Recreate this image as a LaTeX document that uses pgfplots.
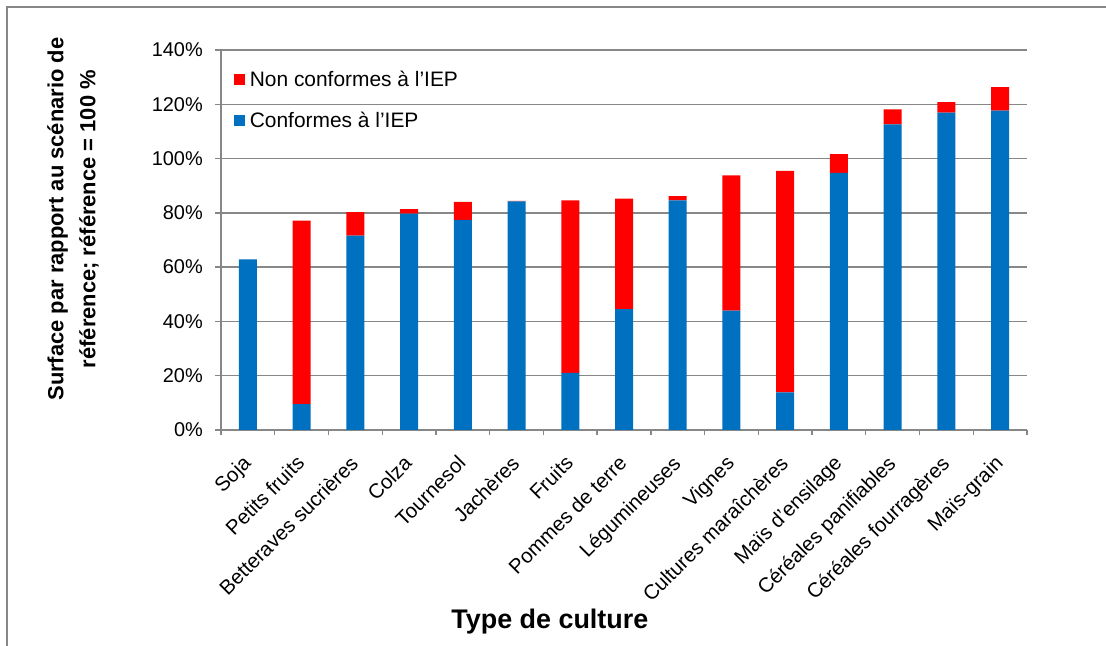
\documentclass[border=0pt]{standalone}
\usepackage{pgfplots}
\usepackage{pgfplotstable}
\pgfplotsset{compat=1.18}
\usepackage{fontspec}
\setmainfont{Liberation Sans}

\definecolor{barblue}{HTML}{0070C0}
\definecolor{barred}{HTML}{FF0000}
\definecolor{axgray}{HTML}{878787}

% surface en % du scénario de référence
\pgfplotstableread{
x conf nonconf
0  62.9  0.0
1  9.5   67.6
2  71.6  8.7
3  79.7  1.7
4  77.4  6.6
5  84.2  0.2
6  21.0  63.6
7  44.5  40.7
8  84.6  1.6
9  44.0  49.8
10 13.9  81.6
11 94.7  6.9
12 112.6 5.5
13 116.9 3.9
14 117.7 8.6
}\surfaces

\begin{document}
\begin{tikzpicture}
\useasboundingbox (0,0) rectangle (1106bp,646bp);
\begin{axis}[
    at={(221bp,216bp)}, anchor=south west,
    scale only axis, width=806bp, height=380bp,
    ybar stacked, bar width=18bp,
    xmin=-0.5, xmax=14.5, ymin=0, ymax=140,
    axis x line*=bottom, axis y line*=left,
    xtick={0,...,14},
    xticklabels={Soja, Petits fruits, Betteraves sucrières, Colza, Tournesol,
        Jachères, Fruits, Pommes de terre, Légumineuses, Vignes,
        Cultures maraîchères, Maïs d'ensilage, Céréales panifiables,
        Céréales fourragères, Maïs-grain},
    major x tick style={draw=none},
    minor xtick={-0.5,0.5,...,14.5},
    ytick={0,20,...,140},
    yticklabels={0\%,20\%,40\%,60\%,80\%,100\%,120\%,140\%},
    ymajorgrids,
    grid style={axgray, line width=1.3bp},
    axis line style={axgray, line width=1.3bp},
    tick style={axgray, line width=1.3bp},
    tick align=outside, major tick length=6bp, minor tick length=5bp,
    ticklabel style={font=\fontsize{20}{24}\selectfont},
    yticklabel style={inner sep=0pt, xshift=-12bp},
    xticklabel style={xshift=-6.5bp, yshift=-18bp, rotate=45, anchor=north east, inner sep=0pt,
        font=\fontsize{20.5}{24}\selectfont},
    xlabel={Type de culture},
    xlabel style={at={(axis description cs:0.408,-0.505)}, anchor=center,
        font=\bfseries\fontsize{27}{32}\selectfont},
    ylabel={Surface par rapport au scénario de\\référence; référence = 100 \%},
    ylabel style={at={(axis description cs:-0.1836,0.555)}, anchor=center,
        align=center, font=\bfseries\fontsize{22}{32}\selectfont},
    legend style={at={(0.012,0.955)}, anchor=north west, draw=none, fill=none,
        font=\fontsize{21}{25}\selectfont, row sep=20bp},
    legend cell align=left,
    reverse legend,
    legend image code/.code={\fill[#1] (0bp,-5.5bp) rectangle (11bp,5.5bp); \path (14bp,0bp);},
]
\addplot[fill=barblue, draw=none] table[x=x, y=conf] {\surfaces};
\addplot[fill=barred, draw=none] table[x=x, y=nonconf] {\surfaces};
\legend{Conformes à l’IEP, Non conformes à l’IEP}
\end{axis}
\draw[axgray, line width=1.5bp] (7bp,0) -- (7bp,639bp) -- (1106bp,639bp);
\end{tikzpicture}
\end{document}
